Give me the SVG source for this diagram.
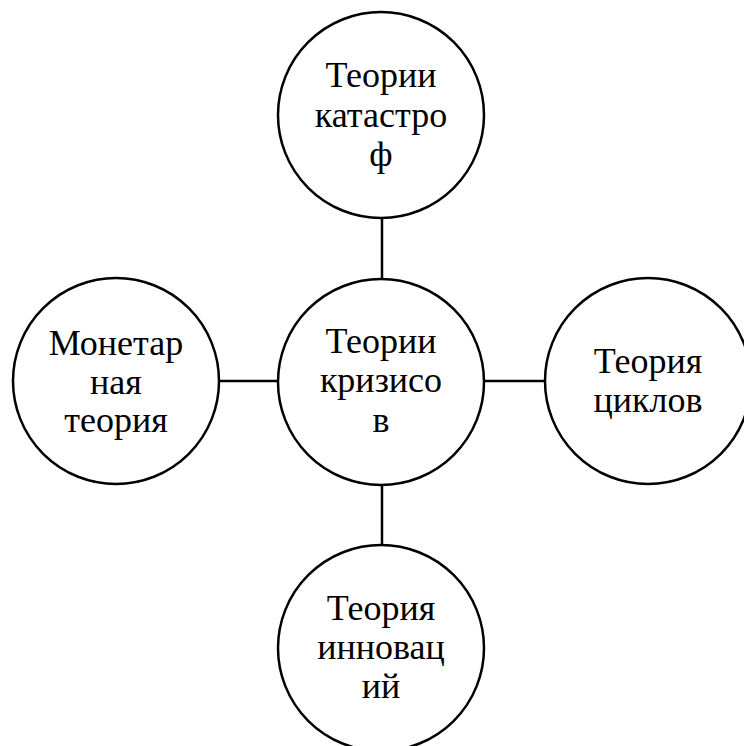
<svg xmlns="http://www.w3.org/2000/svg" width="744" height="746" viewBox="0 0 744 746">
<style>
.n{fill:#fff;stroke:#000;stroke-width:2.5}
.c line{stroke:#000;stroke-width:2.5}
.t{font-family:'Liberation Serif','Times New Roman',serif;font-size:36px;text-anchor:middle;fill:#000}
</style>
<rect width="744" height="746" fill="#fff"/>
<g class="c" id="connectors">
<line x1="382" y1="218" x2="382" y2="280"/>
<line x1="382" y1="485" x2="382" y2="545"/>
<line x1="218" y1="381" x2="279" y2="381"/>
<line x1="484" y1="381" x2="545" y2="381"/>
</g>
<g id="center">
<circle class="n" cx="381" cy="382" r="103"/>
<text class="t" x="381" y="353">Теории</text>
<text class="t" x="381" y="392">кризисо</text>
<text class="t" x="381" y="432">в</text>
</g>
<g id="top">
<circle class="n" cx="381" cy="115" r="103"/>
<text class="t" x="381" y="87">Теории</text>
<text class="t" x="381" y="127">катастро</text>
<text class="t" x="381" y="166">ф</text>
</g>
<g id="left">
<circle class="n" cx="116" cy="381" r="103"/>
<text class="t" x="116" y="355">Монетар</text>
<text class="t" x="116" y="394">ная</text>
<text class="t" x="116" y="432">теория</text>
</g>
<g id="right">
<circle class="n" cx="648" cy="381" r="103"/>
<text class="t" x="648" y="373">Теория</text>
<text class="t" x="648" y="412">циклов</text>
</g>
<g id="bottom">
<circle class="n" cx="381" cy="648" r="103"/>
<text class="t" x="381" y="620">Теория</text>
<text class="t" x="381" y="659">инновац</text>
<text class="t" x="381" y="698">ий</text>
</g>
</svg>
